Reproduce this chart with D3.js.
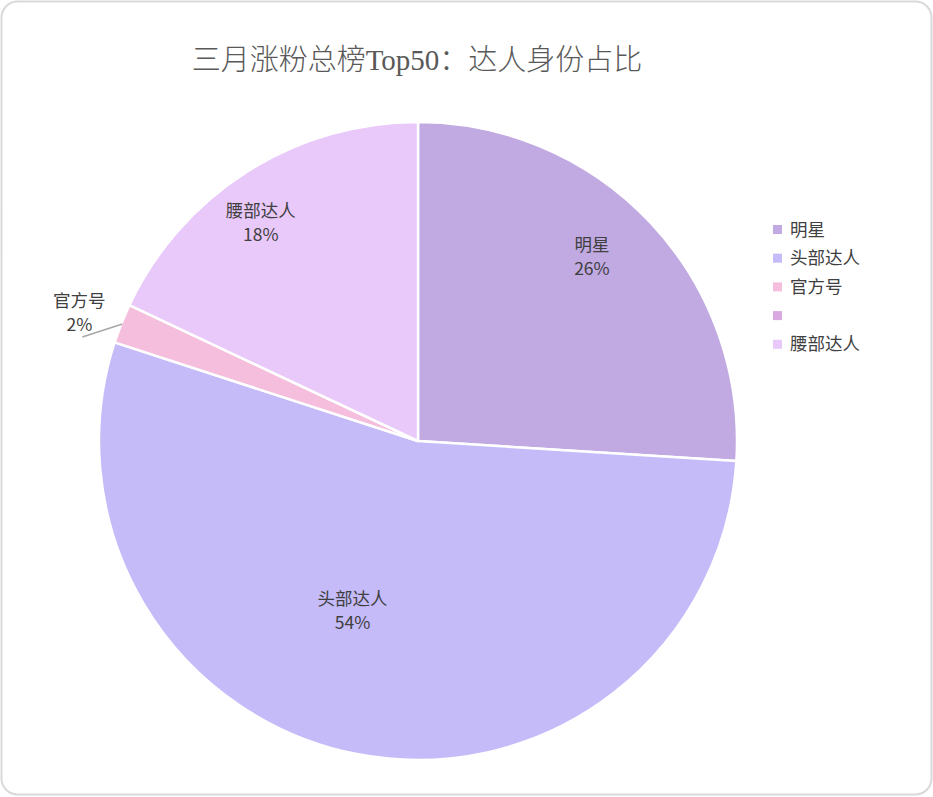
<!DOCTYPE html>
<html><head><meta charset="utf-8">
<script src="https://cdn.jsdelivr.net/npm/d3@7"></script>
<style>body{margin:0;background:#fff;}svg{display:block;}</style>
</head><body>
<svg id="c" width="933" height="797"></svg>
<script>
const title = "三月涨粉总榜Top50：达人身份占比";
const categories = ["明星", "头部达人", "官方号", "", "腰部达人"];
const values = [13, 27, 1, 0, 9];
const colors = ["#C1A9E2", "#C5BBF9", "#F4BEDC", "#DAA8E0", "#E9C8FA"];

const svg = d3.select("#c");
const W = 933, H = 797;
svg.append("rect").attr("x", 1.5).attr("y", 1.5).attr("width", W - 3).attr("height", H - 4)
  .attr("rx", 16).attr("fill", "#fff").attr("stroke", "#D9D9D9").attr("stroke-width", 2);

svg.append("text").attr("x", 417).attr("y", 70).attr("text-anchor", "middle")
  .attr("font-family", "'Liberation Serif','Noto Sans CJK SC'").attr("font-size", 29)
  .attr("font-weight", 300)
  .attr("fill", "#595959").text(title);

const cx = 418, cy = 441, R = 319;
const total = d3.sum(values);
const data = categories.map((c, i) => ({ name: c, value: values[i], color: colors[i] }));
const pie = d3.pie().value(d => d.value).sort(null);
const arcs = pie(data);
const arc = d3.arc().innerRadius(0).outerRadius(R);
const g = svg.append("g").attr("transform", `translate(${cx},${cy})`);
g.selectAll("path").data(arcs.filter(a => a.data.value > 0)).join("path")
  .attr("d", arc).attr("fill", d => d.data.color)
  .attr("stroke", "#fff").attr("stroke-width", 2.5).attr("stroke-linejoin", "round");

const fmt = d => Math.round(d.data.value / total * 100) + "%";
const font = "'Noto Sans CJK SC','Noto Sans',sans-serif";
arcs.forEach(a => {
  if (a.data.value <= 0) return;
  const share = a.data.value / total;
  const mid = (a.startAngle + a.endAngle) / 2;
  let px, py;
  if (share < 0.05) {
    const ex = Math.sin(mid) * (R - 1), ey = -Math.cos(mid) * (R - 1);
    const lx = ex - 40, ly = ey + 13;
    g.append("line").attr("x1", ex).attr("y1", ey).attr("x2", lx).attr("y2", ly)
      .attr("stroke", "#A6A6A6").attr("stroke-width", 1.5);
    px = lx - 3; py = ly - 30;
  } else {
    const f = share > 0.5 ? 0.57 : 0.95 - 0.6 * share;
    const ang = mid + (share > 0.5 ? 0.18 : -0.06);
    px = Math.sin(ang) * R * f; py = -Math.cos(ang) * R * f - 6;
  }
  const t = g.append("text").attr("text-anchor", "middle").attr("font-family", font)
    .attr("font-size", 17.5).attr("fill", "#404040");
  t.append("tspan").attr("x", px).attr("y", py).text(a.data.name);
  t.append("tspan").attr("x", px).attr("y", py + 24).text(fmt(a));
});

const leg = svg.append("g").attr("transform", "translate(773,229)");
data.forEach((d, i) => {
  const row = leg.append("g").attr("transform", `translate(0,${i * 28.7})`);
  row.append("rect").attr("x", 0).attr("y", -4).attr("width", 9).attr("height", 9).attr("fill", d.color);
  row.append("text").attr("x", 17).attr("y", 6.5).attr("font-family", font).attr("font-size", 17.5)
    .attr("fill", "#404040").text(d.name);
});
</script>
</body></html>
